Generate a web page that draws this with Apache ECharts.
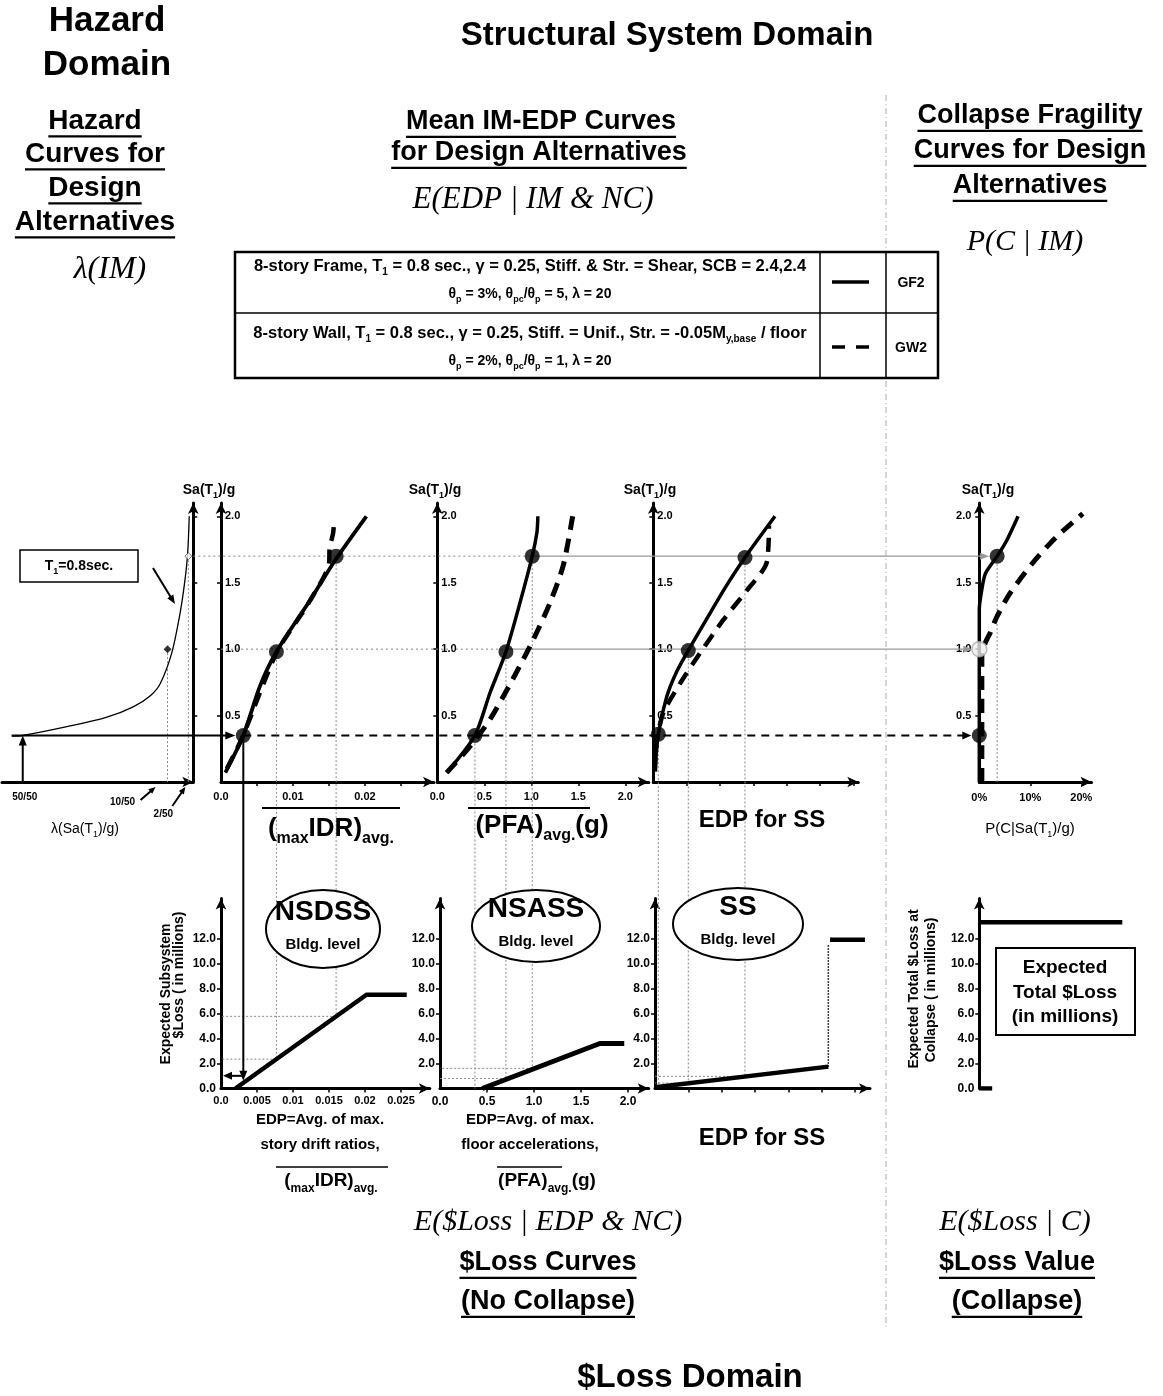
<!DOCTYPE html>
<html><head><meta charset="utf-8"><title>Loss estimation framework</title>
<script src="https://cdn.jsdelivr.net/npm/echarts@6.0.0/dist/echarts.min.js"></script>
<style>html,body{margin:0;padding:0;background:#fff;}#chart{width:1163px;height:1396px;}</style>
</head><body><div id="chart"></div>
<script>
// ================= DATA =================
const saTicks = [0.5, 1.0, 1.5, 2.0];
const saTickText = ['0.5', '1.0', '1.5', '2.0'];
const hazardLevelNames = ['50/50', '10/50', '2/50'];
const hazardLevelLambda = [0.0139, 0.0021, 0.000404];
const hazardLevelSa = [0.35, 1.0, 1.7];
const hazardCurve = [[0.0148, 0.345], [0.0139, 0.35], [0.0103, 0.416], [0.0071, 0.486], [0.0049, 0.566], [0.0035, 0.65], [0.0027, 0.74], [0.00176, 0.97], [0.00108, 1.27], [0.00068, 1.52], [0.00046, 1.72], [0.00033, 2.0]];

const idrGF2 = [[0.0006, 0.07], [0.0031, 0.35], [0.0054, 0.72], [0.0077, 0.98], [0.0124, 1.37], [0.016, 1.68], [0.0202, 2.0]];
const idrGW2 = [[0.0008, 0.1], [0.003, 0.34], [0.0077, 0.97], [0.0122, 1.35], [0.015, 1.64], [0.0151, 1.76], [0.0156, 1.88], [0.0157, 1.98]];
const idrDots = [[0.0031, 0.35], [0.0077, 0.98], [0.016, 1.7]];

const pfaGF2 = [[0.1, 0.07], [0.4, 0.35], [0.56, 0.67], [0.73, 0.98], [0.88, 1.35], [1.01, 1.7], [1.06, 1.88], [1.07, 2.0]];
const pfaGW2 = [[0.1, 0.07], [0.35, 0.27], [0.56, 0.47], [0.8, 0.77], [1.02, 1.07], [1.2, 1.35], [1.34, 1.63], [1.44, 2.0]];
const pfaDots = [[0.4, 0.35], [0.73, 0.98], [1.01, 1.7]];

const ssGF2 = [[0.05, 0.08], [0.15, 0.36], [0.4, 0.64], [0.7, 0.83], [1.05, 0.99], [1.7, 1.27], [2.2, 1.48], [2.75, 1.69], [3.65, 2.0]];
const ssGW2 = [[0.05, 0.08], [0.1, 0.3], [0.3, 0.52], [0.8, 0.74], [1.4, 0.97], [2.1, 1.22], [2.8, 1.44], [3.4, 1.65], [3.47, 1.93]];
const ssDots = [[0.15, 0.36], [1.05, 0.99], [2.75, 1.69]];

const pcGF2 = [[0, 0], [0, 1.3], [0.5, 1.45], [1.2, 1.57], [3.5, 1.7], [5.4, 1.82], [7.6, 2.0]];
const pcGW2 = [[0.5, 0], [0.5, 0.95], [1.2, 1.05], [2.1, 1.12], [3.4, 1.24], [6.0, 1.42], [10.5, 1.65], [15, 1.84], [20.3, 2.02]];
const pcDots = [[0, 0.35], [0, 1.0], [3.5, 1.7]];

const idrTicks = [0.005, 0.01, 0.015, 0.02, 0.025];
const idrTopLabelValues = [0, 0.01, 0.02];
const idrTopLabelText = ['0.0', '0.01', '0.02'];
const idrBotLabelValues = [0, 0.005, 0.01, 0.015, 0.02, 0.025];
const idrBotLabelText = ['0.0', '0.005', '0.01', '0.015', '0.02', '0.025'];
const pfaTicks = [0.5, 1.0, 1.5, 2.0];
const pfaLabelValues = [0, 0.5, 1.0, 1.5, 2.0];
const pfaLabelText = ['0.0', '0.5', '1.0', '1.5', '2.0'];
const ssTicks = [1, 2, 3, 4, 5, 6];
const pcTicks = [10, 20];
const pcLabelValues = [0, 10, 20];
const pcLabelText = ['0%', '10%', '20%'];
const lossTicks = [2, 4, 6, 8, 10, 12];
const lossLabelsWithZero = [0, 2, 4, 6, 8, 10, 12];
const lossLabelTextWithZero = ['0.0', '2.0', '4.0', '6.0', '8.0', '10.0', '12.0'];
const lossLabels = [2, 4, 6, 8, 10, 12];
const lossLabelText = ['2.0', '4.0', '6.0', '8.0', '10.0', '12.0'];

const nsdssLoss = [[0.002, 0], [0.0202, 7.5], [0.0258, 7.5]];
const nsassLoss = [[0.45, 0], [1.7, 3.6], [1.96, 3.6]];
const ssLossLow = [[0, 0.1], [5.2, 1.75]];
const ssLossJump = [[5.2, 1.75], [5.2, 11.5]];
const ssLossHigh = [[5.25, 11.9], [6.3, 11.9]];
const collapseLoss = 13.3;

const legendRows = [
  ['8-story Frame, T{s|1} = 0.8 sec., γ = 0.25, Stiff. & Str. = Shear, SCB = 2.4,2.4', 'θ{s|p} = 3%, θ{s|pc}/θ{s|p} = 5, λ = 20'],
  ['8-story Wall, T{s|1} = 0.8 sec., γ = 0.25, Stiff. = Unif., Str. = -0.05M{s|y,base} / floor', 'θ{s|p} = 2%, θ{s|pc}/θ{s|p} = 1, λ = 20']
];
const legendNames = ['GF2', 'GW2'];

// ================= LAYOUT / STYLE =================
const F = '"Liberation Sans", Arial, Helvetica, sans-serif';
const FS = '"Liberation Serif", "Times New Roman", serif';
const SA_MAX = 2.1, LOSS_MAX = 15.2;
const TOP = { top: 503, height: 279 }, BOT = { top: 898.5, height: 190 };

const grids = [
  { left: 2, width: 191.3, ...TOP },      // 0 hazard
  { left: 221, width: 213, ...TOP },      // 1 IDR
  { left: 437.3, width: 211.5, ...TOP },  // 2 PFA
  { left: 653.3, width: 205, ...TOP },    // 3 SS
  { left: 979.3, width: 112.2, ...TOP },  // 4 P(C)
  { left: 221, width: 208.8, ...BOT },    // 5 loss IDR
  { left: 440, width: 208.7, ...BOT },    // 6 loss PFA
  { left: 655, width: 215, ...BOT },      // 7 loss SS
  { left: 979.3, width: 143, ...BOT }     // 8 loss collapse
].map(g => Object.assign({ outerBoundsMode: 'none', containLabel: false }, g));

function fmt(vals, texts) {
  return v => { for (let i = 0; i < vals.length; i++) if (Math.abs(vals[i] - v) < 1e-9) return texts[i]; return ''; };
}
function axisCommon(o) {
  return {
    axisLine: { show: o.line !== false, onZero: false, symbol: ['none', 'arrow'], symbolSize: [8, 11], lineStyle: { color: '#000', width: 3 } },
    axisTick: o.ticks ? { show: true, customValues: o.ticks, length: 4, inside: !!o.tickInside, lineStyle: { color: '#000', width: 1.5 } } : { show: false },
    axisLabel: o.labels ? { show: true, customValues: o.labels, inside: !!o.labelInside, margin: o.margin != null ? o.margin : 4, formatter: fmt(o.labels, o.texts), color: '#000', fontSize: o.fs || 11, fontWeight: 'bold', fontFamily: F } : { show: false },
    splitLine: { show: false }, splitArea: { show: false }
  };
}
function yAx(g, max, o) { return Object.assign({ gridIndex: g, type: 'value', min: 0, max: max, position: o.position || 'left' }, axisCommon(o)); }
function xAx(g, max, o) { return Object.assign({ gridIndex: g, type: 'value', min: 0, max: max, inverse: !!o.inverse, position: 'bottom' }, axisCommon(o)); }

const yAxes = [
  yAx(0, SA_MAX, { position: 'right', ticks: saTicks }),
  yAx(1, SA_MAX, { ticks: saTicks, labels: saTicks, texts: saTickText, labelInside: true }),
  yAx(2, SA_MAX, { ticks: saTicks, labels: saTicks, texts: saTickText, labelInside: true }),
  yAx(3, SA_MAX, { ticks: saTicks, labels: saTicks, texts: saTickText, labelInside: true }),
  yAx(4, SA_MAX, { ticks: saTicks, labels: saTicks, texts: saTickText, margin: 8 }),
  yAx(5, LOSS_MAX, { ticks: lossTicks, labels: lossLabelsWithZero, texts: lossLabelTextWithZero, fs: 12, margin: 5 }),
  yAx(6, LOSS_MAX, { ticks: lossTicks, labels: lossLabels, texts: lossLabelText, fs: 12, margin: 5 }),
  yAx(7, LOSS_MAX, { ticks: lossTicks, labels: lossLabels, texts: lossLabelText, fs: 12, margin: 5 }),
  yAx(8, LOSS_MAX, { ticks: lossTicks, labels: lossLabelsWithZero, texts: lossLabelTextWithZero, fs: 12, margin: 5 })
];
const xAxes = [
  xAx(0, 0.01559, { inverse: true }),
  xAx(1, 0.0296, { ticks: idrTicks, labels: idrTopLabelValues, texts: idrTopLabelText, margin: 9 }),
  xAx(2, 2.25, { ticks: pfaTicks, labels: pfaLabelValues, texts: pfaLabelText, margin: 9 }),
  xAx(3, 6.15, { ticks: ssTicks }),
  xAx(4, 22, { ticks: pcTicks, labels: pcLabelValues, texts: pcLabelText, margin: 10 }),
  xAx(5, 0.029, { ticks: idrTicks, labels: idrBotLabelValues, texts: idrBotLabelText, margin: 7 }),
  xAx(6, 2.22, { ticks: pfaTicks, labels: pfaLabelValues, texts: pfaLabelText, margin: 7, fs: 12 }),
  xAx(7, 6.45, { ticks: ssTicks }),
  xAx(8, 1, { line: false })
];

function curve(g, data, width, dash, z, smooth) {
  return { type: 'line', xAxisIndex: g, yAxisIndex: g, data: data, symbol: 'none', silent: true,
    smooth: smooth == null ? 0.25 : smooth,
    lineStyle: { color: '#000', width: width, type: dash || 'solid', cap: 'butt', join: 'round' }, z: z || 3 };
}
function dots(g, data, itemStyles) {
  return { type: 'scatter', xAxisIndex: g, yAxisIndex: g, symbol: 'circle', symbolSize: 15, silent: true, z: 6,
    data: data.map((d, i) => ({ value: d, itemStyle: (itemStyles && itemStyles[i]) || { color: '#000' } })) };
}
const DASH = [14, 9];

const series = [
  curve(0, hazardCurve, 1.3, null, 3, 0.3),
  { type: 'scatter', xAxisIndex: 0, yAxisIndex: 0, symbol: 'diamond', silent: true, z: 6,
    data: [{ value: [hazardLevelLambda[1], hazardLevelSa[1]], symbolSize: 8, itemStyle: { color: '#000' } },
           { value: [hazardLevelLambda[2], hazardLevelSa[2]], symbolSize: 7, itemStyle: { color: '#fff', borderColor: '#555', borderWidth: 1 } }] },
  curve(1, idrGW2, 4.5, DASH, 3), curve(1, idrGF2, 3.8, null, 4), dots(1, idrDots),
  curve(2, pfaGW2, 5, DASH, 3), curve(2, pfaGF2, 3.5, null, 4), dots(2, pfaDots),
  curve(3, ssGW2, 4.5, DASH, 3), curve(3, ssGF2, 3.5, null, 4), dots(3, ssDots),
  curve(4, pcGW2, 5, DASH, 3), curve(4, pcGF2, 3.5, null, 4),
  dots(4, pcDots, [null, { color: '#eee', borderColor: '#aaa', borderWidth: 1.5 }, null]),
  curve(5, nsdssLoss, 4.5, null, 4, 0),
  curve(6, nsassLoss, 5, null, 4, 0),
  curve(7, ssLossLow, 4.5, null, 4, 0),
  curve(7, ssLossJump, 1.5, 'dotted', 3, 0),
  curve(7, ssLossHigh, 4.5, null, 4, 0),
  curve(8, [[0, 0], [0.09, 0]], 4.5, null, 4, 0),
  curve(8, [[0, collapseLoss], [1, collapseLoss]], 4.5, null, 4, 0)
];

const chart = echarts.init(document.getElementById('chart'), null, { renderer: 'canvas' });
chart.setOption({ animation: false, backgroundColor: '#fff', grid: grids, xAxis: xAxes, yAxis: yAxes, series: series });

// ================= ANNOTATIONS (positions from data via the chart's scales) =================
const P = (g, pt) => chart.convertToPixel({ xAxisIndex: g, yAxisIndex: g }, pt);
function interp(c, x) {
  if (x <= c[0][0]) return c[0][1];
  for (let i = 1; i < c.length; i++) if (x <= c[i][0]) return c[i - 1][1] + (c[i][1] - c[i - 1][1]) * (x - c[i - 1][0]) / (c[i][0] - c[i - 1][0]);
  return c[c.length - 1][1];
}
const G = [];
function seg(p1, p2, color, width, dash, z) {
  G.push({ type: 'line', silent: true, z: z || 1, shape: { x1: p1[0], y1: p1[1], x2: p2[0], y2: p2[1] }, style: { stroke: color, lineWidth: width, lineDash: dash || null } });
}
function arrow(p1, p2, color, width, dash, len, w, z) {
  const dx = p2[0] - p1[0], dy = p2[1] - p1[1], L = Math.hypot(dx, dy) || 1, ux = dx / L, uy = dy / L;
  const bx = p2[0] - ux * len, by = p2[1] - uy * len;
  seg(p1, [bx + ux, by + uy], color, width, dash, z);
  G.push({ type: 'polygon', silent: true, z: z || 1, shape: { points: [[p2[0], p2[1]], [bx - uy * w / 2, by + ux * w / 2], [bx + uy * w / 2, by - ux * w / 2]] }, style: { fill: color } });
}
const measureCtx = document.createElement('canvas').getContext('2d');
function T(x, y, text, size, o) {
  o = o || {};
  const weight = o.weight || 'bold', family = o.family || F, fst = o.italic ? 'italic' : 'normal';
  const st = { text: text, fill: o.color || '#000', fontSize: size, fontWeight: weight, fontFamily: family, fontStyle: fst, align: o.align || 'center', verticalAlign: 'middle' };
  if (o.rich) {
    const sub = o.sub || 0.62;
    st.lineHeight = Math.round(size * 1.4);
    st.rich = { s: { fontSize: Math.round(size * sub), fontWeight: weight, fontFamily: family, fontStyle: fst, fill: st.fill, verticalAlign: 'bottom', lineHeight: Math.round(size * 0.85) } };
  }
  G.push({ type: 'text', x: x, y: y, rotation: o.rotation || 0, silent: true, z: 10, style: st });
}
function TU(x, y, text, size) {
  T(x, y, text, size);
  measureCtx.font = 'bold ' + size + 'px ' + F;
  const w = measureCtx.measureText(text).width;
  seg([x - w / 2, y + size * 0.55], [x + w / 2, y + size * 0.55], '#000', 2.2, null, 10);
}

// --- hazard-level link lines ---
const lam = hazardLevelLambda, saL = hazardLevelSa;
const yL = saL.map(s => P(1, [0, s])[1]);
arrow(P(0, [lam[0], 0]), P(0, [lam[0], saL[0]]), '#000', 2, null, 10, 8);
seg(P(0, [lam[1], saL[1]]), P(0, [lam[1], 0]), '#888', 1, [2, 2]);
seg(P(0, [lam[2], saL[2]]), P(0, [lam[2], 0]), '#888', 1, [2, 2]);
const dI0 = P(1, idrDots[0]);
arrow([P(0, hazardCurve[0])[0], yL[0]], [dI0[0] - 8, yL[0]], '#000', 2, null, 10, 8);
const dC0 = P(4, pcDots[0]);
arrow([dI0[0], yL[0]], [dC0[0] - 8, yL[0]], '#000', 2, [8, 6], 9, 8);
const dP1 = P(2, pfaDots[1]), dC1 = P(4, pcDots[1]);
seg(P(1, [0, saL[1]]), [dP1[0], yL[1]], '#888', 1, [2, 3]);
arrow([dP1[0], yL[1]], [dC1[0] - 7, yL[1]], '#999', 1.2, null, 9, 7);
const dP2 = P(2, pfaDots[2]), dC2 = P(4, pcDots[2]);
seg(P(0, [lam[2], saL[2]]), [dP2[0], yL[2]], '#888', 1, [2, 3]);
arrow([dP2[0], yL[2]], [dC2[0] - 8, yL[2]], '#999', 1.2, null, 9, 7);

// --- vertical EDP -> $Loss links ---
function drop(gTop, gBot, dotsArr, lossCurve, strongFirst) {
  dotsArr.forEach((d, i) => {
    const top = P(gTop, d);
    const loss = interp(lossCurve, d[0]);
    const bot = P(gBot, [d[0], loss]);
    const ax = P(gBot, [0, loss]);
    if (strongFirst && i === 0) {
      arrow(top, [top[0], bot[1] - 2], '#000', 2, null, 10, 8, 5);
      arrow([top[0], bot[1] - 7], [ax[0] + 2, bot[1] - 7], '#000', 2, null, 9, 8, 5);
    } else {
      seg(top, [top[0], bot[1]], '#888', 1, [2, 2]);
      if (loss > 0.05) seg([top[0], bot[1]], [ax[0], bot[1]], '#888', 1, [2, 2]);
    }
  });
}
drop(1, 5, idrDots, nsdssLoss, true);
drop(2, 6, pfaDots, nsassLoss, false);
drop(3, 7, ssDots, ssLossLow, false);
seg(P(4, pcDots[2]), P(4, [pcDots[2][0], 0]), '#888', 1, [2, 2]);

// --- hazard axis labels ---
const hz = lam.map(l => P(0, [l, 0]));
T(hz[0][0] + 2, hz[0][1] + 15, hazardLevelNames[0], 10);
T(hz[1][0] - 45, hz[1][1] + 20, hazardLevelNames[1], 10);
arrow([hz[1][0] - 27, hz[1][1] + 18], [hz[1][0] - 12, hz[1][1] + 5], '#000', 2, null, 7, 6);
T(hz[2][0] - 25, hz[2][1] + 32, hazardLevelNames[2], 10);
arrow([hz[2][0] - 16, hz[2][1] + 24], [hz[2][0] - 3, hz[2][1] + 5], '#000', 2, null, 7, 6);
T(85, 829, 'λ(Sa(T{s|1})/g)', 14, { weight: 'normal', rich: true });

// T1 box
G.push({ type: 'rect', silent: true, z: 9, shape: { x: 20, y: 550, width: 118, height: 32 }, style: { fill: '#fff', stroke: '#000', lineWidth: 1.5 } });
T(79, 566, 'T{s|1}=0.8sec.', 14, { rich: true });
arrow([153, 568], [175, 604], '#000', 2, null, 9, 7);

// --- headings ---
T(107, 21, 'Hazard', 35); T(107, 65, 'Domain', 35);
T(667, 36, 'Structural System Domain', 33);
[['Hazard', 121], ['Curves for', 154], ['Design', 188], ['Alternatives', 222]].forEach(a => TU(95, a[1], a[0], 28));
T(110, 270, 'λ(IM)', 32, { weight: 'normal', italic: true, family: FS });
TU(541, 122, 'Mean IM-EDP Curves', 27);
TU(539, 153, 'for Design Alternatives', 27);
T(533, 200, 'E(EDP | IM & NC)', 31, { weight: 'normal', italic: true, family: FS });
[['Collapse Fragility', 116], ['Curves for Design', 151], ['Alternatives', 186]].forEach(a => TU(1030, a[1], a[0], 27));
T(1025, 242, 'P(C | IM)', 30, { weight: 'normal', italic: true, family: FS });

// divider
seg([886, 95], [886, 1330], '#aaa', 1, [6, 3, 1, 3], 0);

// --- legend table ---
G.push({ type: 'rect', silent: true, z: 8, shape: { x: 235, y: 252, width: 703, height: 126 }, style: { fill: '#fff', stroke: '#000', lineWidth: 2.5 } });
seg([235, 313], [938, 313], '#000', 1.5, null, 9);
seg([820, 252], [820, 378], '#000', 1.5, null, 9);
seg([886, 252], [886, 378], '#000', 1.5, null, 9);
T(530, 266, legendRows[0][0], 16.5, { rich: true });
T(530, 294, legendRows[0][1], 14, { rich: true });
T(530, 333, legendRows[1][0], 16.5, { rich: true });
T(530, 361, legendRows[1][1], 14, { rich: true });
seg([832, 282], [869, 282], '#000', 3.5, null, 9);
seg([832, 347], [869, 347], '#000', 3.5, [13, 11], 9);
T(911, 283, legendNames[0], 14);
T(911, 348, legendNames[1], 14);

// --- axis titles (top row) ---
T(209, 490, 'Sa(T{s|1})/g', 14, { rich: true });
T(435, 490, 'Sa(T{s|1})/g', 14, { rich: true });
T(650, 490, 'Sa(T{s|1})/g', 14, { rich: true });
T(988, 490, 'Sa(T{s|1})/g', 14, { rich: true });
T(331, 829, '({s|max}IDR){s|avg.}', 26, { rich: true, sub: 0.6 });
seg([262, 808], [400, 808], '#000', 2, null, 10);
T(542, 826, '(PFA){s|avg.}(g)', 26, { rich: true, sub: 0.6 });
seg([468, 808], [590, 808], '#000', 2, null, 10);
T(762, 820, 'EDP for SS', 24);
T(1030, 829, 'P(C|Sa(T{s|1})/g)', 15, { weight: 'normal', rich: true });

// --- bottom row ---
T(166, 994, 'Expected Subsystem', 14, { rotation: Math.PI / 2 });
T(179, 975, '$Loss ( in millions)', 14, { rotation: Math.PI / 2 });
T(914, 989, 'Expected Total $Loss at', 14, { rotation: Math.PI / 2 });
T(931, 990, 'Collapse ( in millions)', 14, { rotation: Math.PI / 2 });
[[323, 929, 57, 39, 'NSDSS'], [536, 926, 64, 36, 'NSASS'], [738, 924, 65, 36, 'SS']].forEach(e => {
  G.push({ type: 'ellipse', silent: true, z: 9, shape: { cx: e[0], cy: e[1], rx: e[2], ry: e[3] }, style: { fill: '#fff', stroke: '#000', lineWidth: 2 } });
  T(e[0], e[1] - 17, e[4], 28);
  T(e[0], e[1] + 16, 'Bldg. level', 15);
});
G.push({ type: 'rect', silent: true, z: 9, shape: { x: 996, y: 948, width: 139, height: 87 }, style: { fill: '#fff', stroke: '#000', lineWidth: 2 } });
T(1065, 968, 'Expected', 19); T(1065, 993, 'Total $Loss', 19); T(1065, 1017, '(in millions)', 19);

T(320, 1120, 'EDP=Avg. of max.', 15);
T(320, 1145, 'story drift ratios,', 15);
T(331, 1181, '({s|max}IDR){s|avg.}', 19, { rich: true, sub: 0.62 });
seg([276, 1167], [388, 1167], '#000', 1.5, null, 10);
T(530, 1120, 'EDP=Avg. of max.', 15);
T(530, 1145, 'floor accelerations,', 15);
T(547, 1181, '(PFA){s|avg.}(g)', 19, { rich: true, sub: 0.62 });
seg([497, 1167], [562, 1167], '#000', 1.5, null, 10);
T(762, 1138, 'EDP for SS', 24);

T(548, 1222, 'E($Loss | EDP & NC)', 30, { weight: 'normal', italic: true, family: FS });
TU(548, 1263, '$Loss Curves', 27);
TU(548, 1302, '(No Collapse)', 27);
T(1015, 1222, 'E($Loss | C)', 30, { weight: 'normal', italic: true, family: FS });
TU(1017, 1263, '$Loss Value', 27);
TU(1017, 1302, '(Collapse)', 27);
T(690, 1378, '$Loss Domain', 33);

chart.setOption({ graphic: { elements: G } });
</script></body></html>
